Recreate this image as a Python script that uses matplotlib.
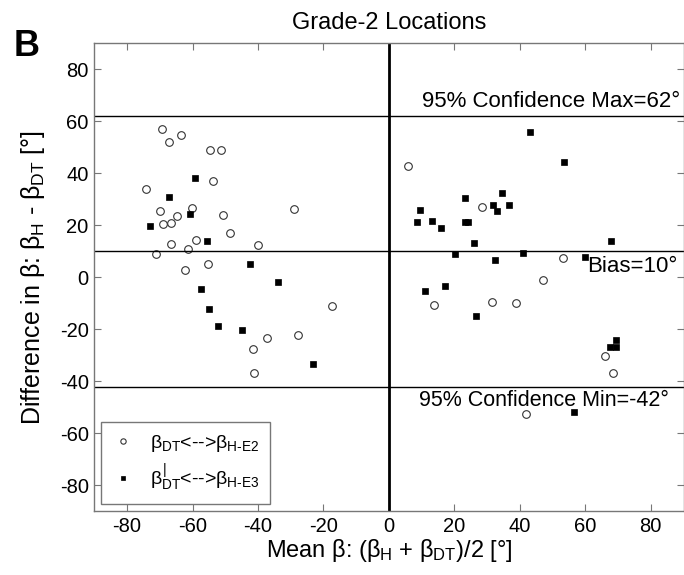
import matplotlib
matplotlib.use("Agg")
import matplotlib.pyplot as plt

plt.rcParams['font.family'] = ['Liberation Sans', 'DejaVu Sans']
plt.rcParams['mathtext.fontset'] = 'custom'
plt.rcParams['mathtext.rm'] = 'Liberation Sans'
plt.rcParams['mathtext.it'] = 'Liberation Sans'
plt.rcParams['mathtext.bf'] = 'Liberation Sans:bold'
plt.rcParams['axes.unicode_minus'] = False

# beta_DT <--> beta_H-E2 (open circles)
e2_mean = [-69.4, -63.6, -67.3, -54.6, -51.4, -53.6, -74.1, -60.1, -70.0, -64.7,
           -50.8, -28.9, -69.0, -66.7, -48.6, -66.7, -58.8, -39.9, -61.5, -71.3,
           -55.3, -62.2, -17.5, -27.8, -37.1, -41.6, -41.1,
           5.9, 28.5, 53.1, 47.2, 13.9, 31.5, 38.9, 66.1, 68.5, 42.0]
e2_diff = [56.9, 54.6, 51.9, 48.8, 48.8, 37.0, 34.1, 26.5, 25.6, 23.6,
           24.0, 26.2, 20.6, 20.9, 16.9, 12.7, 14.2, 12.3, 10.8, 9.1,
           5.2, 2.9, -11.0, -22.3, -23.5, -27.7, -36.9,
           42.9, 27.0, 7.3, -1.0, -10.8, -9.6, -10.0, -30.3, -36.9, -52.6]

# beta'_DT <--> beta_H-E3 (filled squares)
e3_mean = [-59.2, -67.1, -60.9, -73.0, -55.5, -42.5, -33.9, -57.5, -55.0, -52.1,
           -44.9, -23.1,
           43.0, 53.6, 34.5, 23.4, 31.8, 36.7, 9.4, 33.1, 8.7, 13.3,
           23.4, 24.2, 15.9, 67.9, 26.1, 20.2, 41.1, 32.4, 60.0, 11.0,
           17.2, 26.5, 69.5, 67.4, 69.4, 56.7]
e3_diff = [38.1, 30.9, 24.2, 19.7, 13.8, 5.1, -1.9, -4.6, -12.3, -18.7,
           -20.4, -33.3,
           55.8, 44.3, 32.5, 30.5, 27.8, 27.8, 25.8, 25.6, 21.4, 21.5,
           21.2, 21.2, 19.1, 14.1, 13.2, 9.0, 9.2, 6.5, 7.9, -5.3,
           -3.3, -14.8, -24.2, -26.7, -26.8, -51.8]

conf_max = 62
bias = 10
conf_min = -42
ticks = [-80, -60, -40, -20, 0, 20, 40, 60, 80]

fig = plt.figure(figsize=(6.84, 5.75), dpi=100)
ax = fig.add_axes([94.3 / 684, 1 - 511.3 / 575, 589.2 / 684, 468 / 575])

ax.plot(e2_mean, e2_diff, 'o', ms=5.5, mfc='white', mec='#333333', mew=0.8,
        label=r'$\beta_{\mathrm{DT}}$<-->$\beta_{\text{H-E2}}$')
ax.plot(e3_mean, e3_diff, 's', ms=4.7, mfc='black', mec='black', mew=0.5,
        label=r"$\beta^{|}_{\mathrm{DT}}$<-->$\beta_{\text{H-E3}}$")

ax.axvline(0, color='black', lw=2)
for yv in (conf_max, bias, conf_min):
    ax.axhline(yv, color='black', lw=1)

ax.text(88.9, conf_max + 1.5, f'95% Confidence Max={conf_max}°',
        ha='right', va='bottom', fontsize=16)
ax.text(88.3, bias - 2, f'Bias={bias}°', ha='right', va='top', fontsize=16)
ax.text(85.5, conf_min - 1.5, f'95% Confidence Min={conf_min}°',
        ha='right', va='top', fontsize=15.5)

ax.set_xlim(-90, 90)
ax.set_ylim(-90, 90)
ax.set_xticks(ticks)
ax.set_yticks(ticks)
ax.tick_params(direction='in', top=True, right=True, length=5, width=0.8,
               color='#777777', labelsize=14.5, pad=4)
for sp in ax.spines.values():
    sp.set_color('#777777')
    sp.set_linewidth(1)

ax.set_title('Grade-2 Locations', fontsize=17, pad=10)
ax.set_xlabel(r'Mean $\beta$: ($\beta_{\mathrm{H}}$ + $\beta_{\mathrm{DT}}$)/2 [°]',
              fontsize=17, labelpad=1)
ax.set_ylabel(r'Difference in $\beta$: $\beta_{\mathrm{H}}$ - $\beta_{\mathrm{DT}}$ [°]',
              fontsize=18, labelpad=9)

leg = ax.legend(loc='lower left', bbox_to_anchor=(0.011, 0.015), borderaxespad=0,
                fontsize=14, markerscale=0.7, fancybox=False, framealpha=1,
                edgecolor='#777777', handlelength=1.2, handletextpad=0.8,
                borderpad=0.55, labelspacing=0.45)
leg.get_frame().set_linewidth(1)

fig.text(0.02, 1 - 46 / 575, 'B', fontsize=26, fontweight='bold', va='center')

fig.savefig('out.png', dpi=100)
